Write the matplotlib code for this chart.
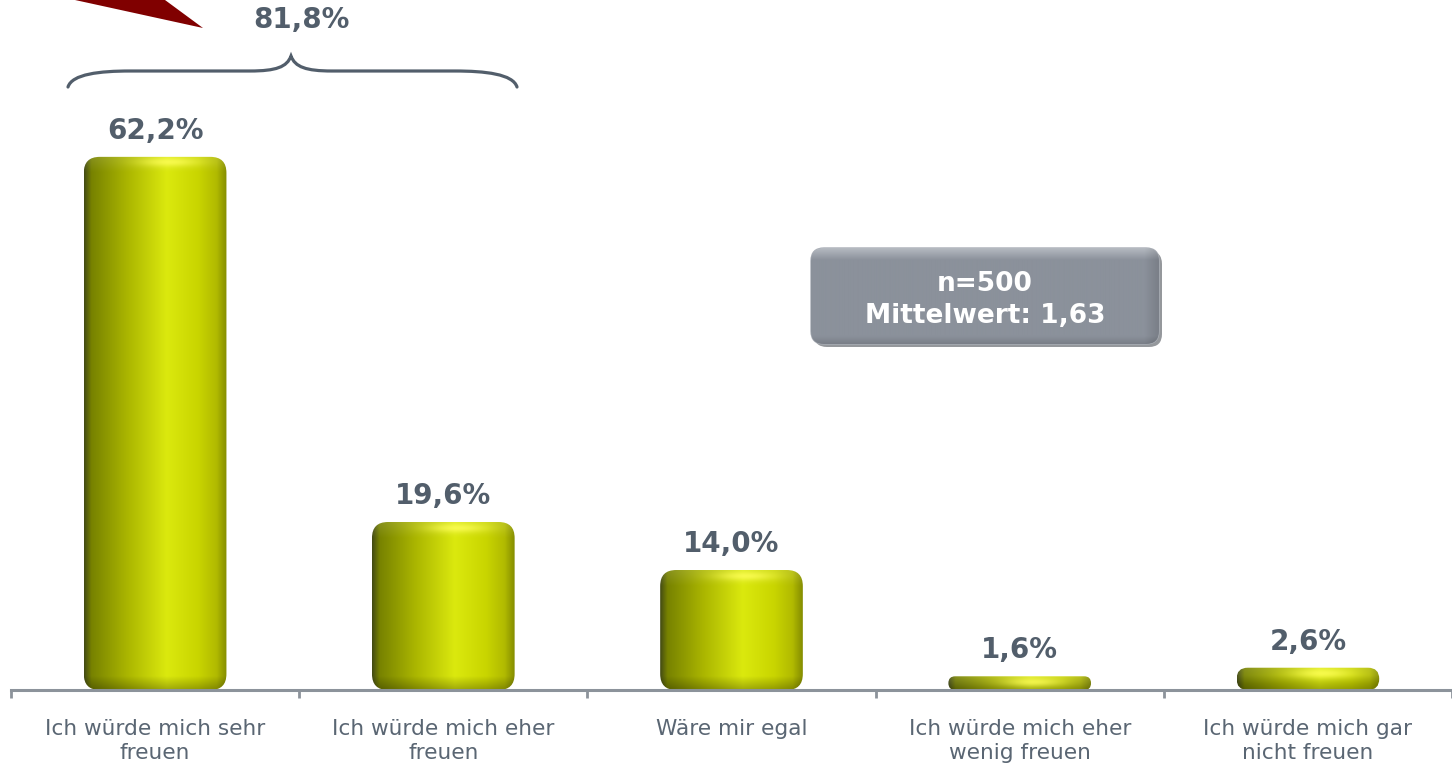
import numpy as np
import matplotlib
matplotlib.use("Agg")
import matplotlib.pyplot as plt
from matplotlib.patches import FancyBboxPatch, Polygon, PathPatch
from matplotlib.path import Path
from matplotlib.colors import to_rgb

categories = ["Ich würde mich sehr\nfreuen", "Ich würde mich eher\nfreuen", "Wäre mir egal",
              "Ich würde mich eher\nwenig freuen", "Ich würde mich gar\nnicht freuen"]
values = [62.2, 19.6, 14.0, 1.6, 2.6]
n_total = 500
mean_value = 1.63
top_two = values[0] + values[1]

TXT = "#525e6b"
AXC = "#8c939b"
plt.rcParams["font.family"] = ["DejaVu Sans"]

W, H = 1452, 765
fig = plt.figure(figsize=(W / 100, H / 100), dpi=100)
ax = fig.add_axes([11 / W, 75 / H, 1441 / W, 690 / H])
XMIN, XMAX, YMAX = -0.5, 4.5, 80.5
px_x = 1441 / (XMAX - XMIN)
px_y = 690 / YMAX


def pct(v):
    return f"{v:.1f}%".replace(".", ",")


def bar_image(hpx):
    nx = 160
    ny = max(int(round(hpx)), 6)
    xs = np.linspace(0, 1, nx)
    stops = [0, .05, .3, .58, .8, .93, 1]
    cols = np.array([to_rgb(c) for c in
                     ["#444c14", "#778200", "#aab500", "#dbe90e", "#c9d500", "#b1ba00", "#858d00"]])
    base = np.stack([np.interp(xs, stops, cols[:, k]) for k in range(3)], axis=-1)
    img = np.repeat(base[None, :, :], ny, axis=0)
    yy = np.arange(ny)[:, None] + 0.5
    dist_bot = ny - yy
    shade = 1 - 0.28 * np.clip(1 - dist_bot / 14, 0, 1)
    img = img * shade[..., None]
    cap = np.clip(1 - yy / 16, 0, 1)
    img = img + (cap * 0.12)[..., None] * (1 - img)
    hl = np.exp(-((xs[None, :] - 0.6) / 0.2) ** 2 - ((yy - 6) / 4.5) ** 2)
    img = img + (hl * 0.75)[..., None] * (np.array([1.0, 1.0, 0.35]) - img)
    return np.clip(img, 0, 1)


bw = 0.495
for i, v in enumerate(values):
    x0 = i - bw / 2
    hpx = v * px_y
    r_px = min(16, hpx / 2)
    patch = FancyBboxPatch((x0, 0), bw, v,
                           boxstyle=f"round,pad=0,rounding_size={r_px / px_x}",
                           mutation_aspect=px_x / px_y, ec="none", fc="none", zorder=2)
    ax.add_patch(patch)
    im = ax.imshow(bar_image(hpx), extent=(x0, x0 + bw, 0, v), origin="upper",
                   aspect="auto", interpolation="bilinear", zorder=2)
    im.set_clip_path(patch)
    ax.annotate(pct(v), (i, v), xytext=(0, 18.7), textcoords="offset points",
                ha="center", va="center", fontsize=20, fontweight="bold", color=TXT)

ax.set_xlim(XMIN, XMAX)
ax.set_ylim(0, YMAX)
for s in ["top", "right", "left"]:
    ax.spines[s].set_visible(False)
ax.spines["bottom"].set_color(AXC)
ax.spines["bottom"].set_linewidth(2.2)
ax.set_yticks([])
ax.set_xticks(range(len(categories)))
ax.set_xticklabels(categories, fontsize=15.6, color="#5a6673", linespacing=1.25)
ax.set_xticks(np.arange(len(categories) + 1) - 0.5, minor=True)
ax.tick_params(axis="x", which="major", length=0, pad=21)
ax.tick_params(axis="x", which="minor", length=6, width=2, color=AXC, direction="out")
ax.patch.set_alpha(0)

# overlay in pixel coordinates for annotations
ov = fig.add_axes([0, 0, 1, 1], zorder=5)
ov.axis("off")

ov.add_patch(Polygon([(75, 0), (165, 0), (203, 28)], closed=True, fc="#800000", ec="none"))

verts = [(68, 87), (72, 74), (100, 71), (130, 71), (250, 71), (276, 71), (287, 67), (291, 56),
         (295, 67), (306, 71), (332, 71), (455, 71), (485, 71), (513, 74), (517, 87)]
codes = [Path.MOVETO, Path.CURVE4, Path.CURVE4, Path.CURVE4, Path.LINETO,
         Path.CURVE4, Path.CURVE4, Path.CURVE4, Path.CURVE4, Path.CURVE4, Path.CURVE4,
         Path.LINETO, Path.CURVE4, Path.CURVE4, Path.CURVE4]
ov.add_patch(PathPatch(Path(verts, codes), fc="none", ec=TXT, lw=2.3, capstyle="round"))
ov.text(301, 20, pct(top_two), ha="center", va="center", fontsize=20, fontweight="bold", color=TXT)

# info box
bx, by, bwid, bht = 811, 248, 348, 96
ov.add_patch(FancyBboxPatch((bx + 3, by + 3), bwid, bht, boxstyle="round,pad=0,rounding_size=13",
                            fc="#3e434b", ec="none", alpha=0.55))
box = FancyBboxPatch((bx, by), bwid, bht, boxstyle="round,pad=0,rounding_size=13",
                     fc="none", ec="#a9aeb6", lw=1.0)
ov.add_patch(box)
yy = np.linspace(0, 1, 96)[:, None]
xx = np.linspace(0, 1, 200)[None, :]
top = np.array(to_rgb("#b4b9c0"))
mid = np.array(to_rgb("#8b919b"))
g = np.clip(1 - yy / 0.12, 0, 1)[..., None] * (top - mid) + mid
edge = 1 - 0.12 * (np.clip(1 - (1 - xx) / 0.04, 0, 1) + np.clip(1 - (1 - yy) / 0.08, 0, 1))
gimg = np.clip(g * edge[..., None], 0, 1)
bim = ov.imshow(gimg, extent=(bx, bx + bwid, by + bht, by), origin="upper", aspect="auto",
                interpolation="bilinear", zorder=1)
bim.set_clip_path(box)
cx = bx + bwid / 2
ov.text(cx, 284, f"n={n_total}", ha="center", va="center", fontsize=19, fontweight="bold",
        color="white", zorder=3)
ov.text(cx, 316, f"Mittelwert: {mean_value:.2f}".replace(".", ","), ha="center", va="center",
        fontsize=19, fontweight="bold", color="white", zorder=3)

ov.set_xlim(0, W)
ov.set_ylim(H, 0)

fig.savefig("out.png", dpi=100)
